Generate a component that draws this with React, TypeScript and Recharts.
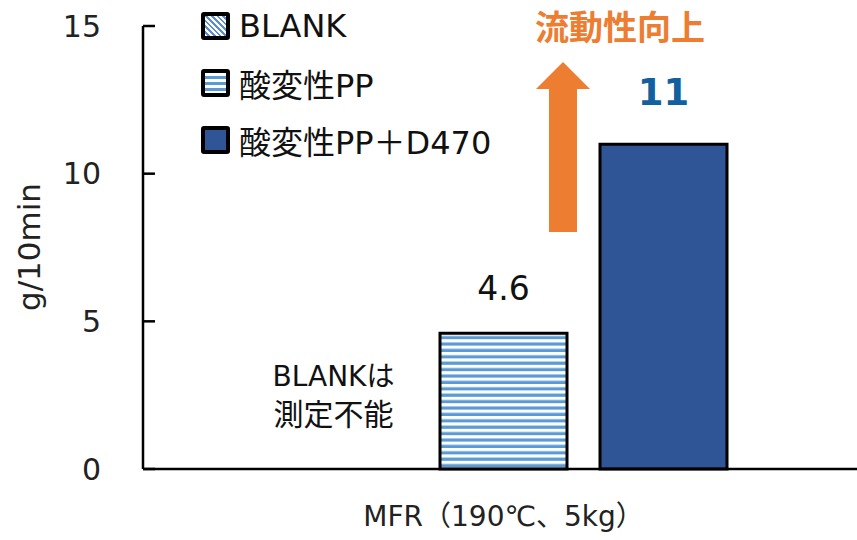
import { BarChart, Bar, XAxis, YAxis, Legend, LabelList, Rectangle } from 'recharts'

const categories = ['MFR（190℃、5kg）']
const blankValues = [0]
const ppValues = [4.6]
const d470Values = [11]
const yTicks = [0, 5, 10, 15]

const seriesNames = ['BLANK', '酸変性PP', '酸変性PP＋D470']

const FONT = "'DejaVu Sans', 'Noto Sans CJK JP', sans-serif"
const JP = "'Noto Sans CJK JP', sans-serif"

const data = categories.map((c, i) => ({
  name: c,
  blank: blankValues[i],
  pp: ppValues[i],
  d470: d470Values[i],
}))

const swatches = [
  'repeating-linear-gradient(45deg, #fff 0 2px, #5b8fd0 2px 4px)',
  'repeating-linear-gradient(180deg, #fff 0 3px, #5b9bd5 3px 6px)',
  '#2f5597',
]

function LegendBox() {
  return (
    <div style={{ fontFamily: FONT, fontSize: 32, color: '#111' }}>
      {seriesNames.map((n, i) => (
        <div key={n} style={{ display: 'flex', alignItems: 'center', height: 57 }}>
          <span style={{
            width: 21, height: 20, border: '4px solid #000', borderRadius: 3,
            background: swatches[i], marginRight: 9, flexShrink: 0,
          }} />
          <span style={{ whiteSpace: 'nowrap' }}>{n}</span>
        </div>
      ))}
    </div>
  )
}

// BLANK has no value, so its bar draws nothing but the note
const blankShape = (p: any) => {
  const cx = p.x + p.width / 2 - 10
  const base = p.y + p.height
  return (
    <g>
      {p.height > 0 && <Rectangle {...p} />}
      <text x={cx} y={base - 83} textAnchor="middle" fontSize={28} fontFamily={FONT} fill="#111">BLANKは</text>
      <text x={cx} y={base - 44} textAnchor="middle" fontSize={30} fontFamily={JP} fill="#111">測定不能</text>
    </g>
  )
}

const ppLabel = (p: any) => (
  <text x={p.x + p.width / 2} y={p.y - 33} textAnchor="middle" fontSize={33} fontFamily={FONT} fill="#111">
    {p.value}
  </text>
)

const d470Label = (p: any) => (
  <text x={p.x + p.width / 2} y={p.y - 39} textAnchor="middle" fontSize={37} fontWeight="bold" fontFamily={FONT} fill="#13609f">
    {p.value}
  </text>
)

export default function App() {
  return (
    <div style={{ position: 'absolute', left: 0, top: 0, width: 857, height: 540, background: '#fff' }}>
      <BarChart
        width={857}
        height={540}
        data={data}
        margin={{ top: 26, right: 0, bottom: 0, left: 0 }}
        barSize={127}
        barGap={33}
      >
        <defs>
          <pattern id="hstripe" patternUnits="userSpaceOnUse" width={8} height={6.4}>
            <rect width={8} height={6.4} fill="#fff" />
            <rect y={3.2} width={8} height={3.2} fill="#5b9bd5" />
          </pattern>
          <pattern id="dstripe" patternUnits="userSpaceOnUse" width={6} height={6} patternTransform="rotate(-45)">
            <rect width={6} height={6} fill="#fff" />
            <rect width={3} height={6} fill="#5b8fd0" />
          </pattern>
        </defs>
        <XAxis
          dataKey="name"
          height={71}
          padding={{ left: 7, right: 0 }}
          tickLine={false}
          tickMargin={31}
          axisLine={{ stroke: '#000', strokeWidth: 2.5 }}
          tick={{ fill: '#222', fontSize: 28, fontFamily: FONT }}
        />
        <YAxis
          width={143}
          domain={[0, 15]}
          ticks={yTicks}
          interval={0}
          tickSize={-12}
          tickMargin={54}
          axisLine={{ stroke: '#000', strokeWidth: 2.5 }}
          tickLine={{ stroke: '#000', strokeWidth: 2.5 }}
          tick={{ fill: '#222', fontSize: 30, fontFamily: FONT }}
          label={() => (
            <text transform="translate(40,247) rotate(-90)" textAnchor="middle" fontSize={31} fontFamily={FONT} fill="#222">
              g/10min
            </text>
          )}
        />
        <Legend
          layout="vertical"
          align="center"
          verticalAlign="middle"
          wrapperStyle={{ left: 201, top: -3, width: 'auto' }}
          content={() => <LegendBox />}
        />
        <Bar dataKey="blank" name={seriesNames[0]} fill="url(#dstripe)" stroke="#000" strokeWidth={3} shape={blankShape} isAnimationActive={false} />
        <Bar dataKey="pp" name={seriesNames[1]} fill="url(#hstripe)" stroke="#000" strokeWidth={3} isAnimationActive={false}>
          <LabelList dataKey="pp" content={ppLabel} />
        </Bar>
        <Bar dataKey="d470" name={seriesNames[2]} fill="#2f5597" stroke="#000" strokeWidth={3} isAnimationActive={false}>
          <LabelList dataKey="d470" content={d470Label} />
        </Bar>
        <g>
          <polygon points="549,232 577,232 577,89 590,89 563,62 536,89 549,89" fill="#ed7d31" />
          <text x={620} y={40} textAnchor="middle" fontSize={34} fontWeight="bold" fontFamily={JP} fill="#ed7d31">
            流動性向上
          </text>
        </g>
      </BarChart>
    </div>
  )
}
